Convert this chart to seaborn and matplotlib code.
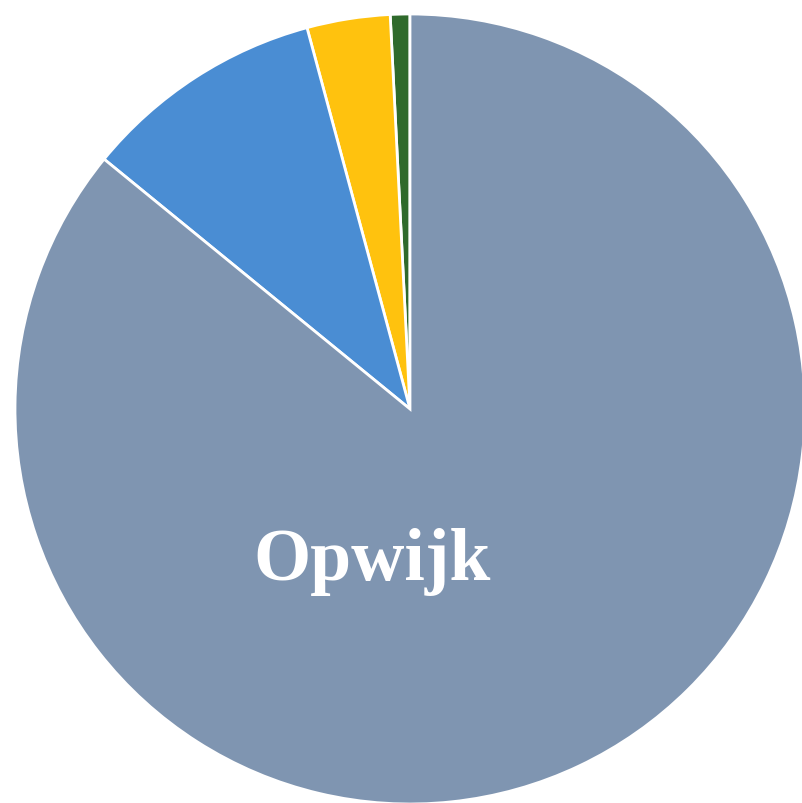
import matplotlib
matplotlib.use("Agg")
import matplotlib.pyplot as plt
import seaborn as sns

sns.set_theme(style="white")

categories = ["Opwijk", "Blauw", "Geel", "Groen"]
values = [85.9, 9.9, 3.4, 0.8]
colors = ["#7F95B1", "#4A8DD3", "#FFC20E", "#2F6A2C"]
shown_label = "Opwijk"

fig = plt.figure(figsize=(8.03, 8.04), dpi=100)
ax = fig.add_axes([0, 0, 1, 1])

# draw counterclockwise from top: green, yellow, blue, grey
order = list(range(len(values)))[::-1]
ax.pie([values[i] for i in order],
       colors=[colors[i] for i in order],
       startangle=90, counterclock=True,
       wedgeprops=dict(edgecolor="white", linewidth=2))

ax.set_aspect("equal")
ax.set_xlim(-410 / 395, 393 / 395)
ax.set_ylim(-394 / 395, 410 / 395)
ax.axis("off")

ax.text(-0.096, -0.385, shown_label, ha="center", va="center",
        color="white", fontsize=53, fontweight="bold",
        family=["Liberation Serif", "DejaVu Serif"])

fig.savefig("out.png", dpi=100)
